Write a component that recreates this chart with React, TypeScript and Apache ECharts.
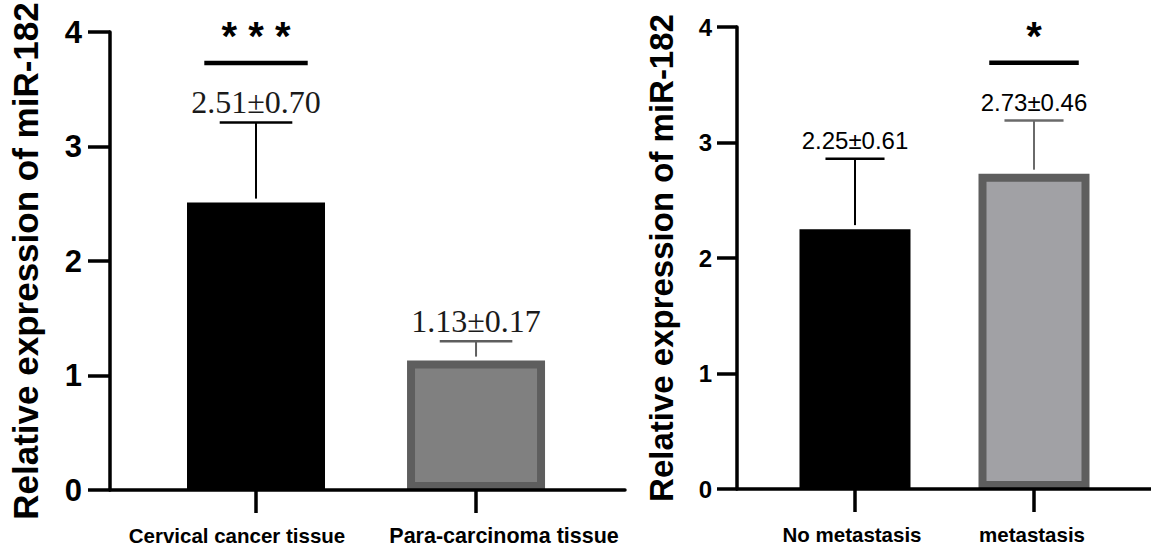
import React, { useEffect, useRef } from "react";
import * as echarts from "echarts";

// ---- data ----
const leftCategories = ["Cervical cancer tissue", "Para-carcinoma tissue"];
const leftMeans = [2.51, 1.13];
const leftSDs = [0.7, 0.17];

const rightCategories = ["No metastasis", "metastasis"];
const rightMeans = [2.25, 2.73];
const rightSDs = [0.61, 0.46];

const yTickMin = 0;
const yTickMax = 4;
const yTickStep = 1;

const yTitle = "Relative expression of miR-182";

const leftSig = { mark: "* * *", index: 0, level: 3.73 };
const rightSig = { mark: "*", index: 1, level: 3.69 };

// ---- styles ----
const SANS = "'Liberation Sans', Arial, Helvetica, sans-serif";
const SERIF = "'Liberation Serif', 'Times New Roman', serif";

type Panel = {
  cats: string[];
  means: number[];
  sds: number[];
  sig: { mark: string; index: number; level: number };
  grid: { left: number; top: number; width: number; height: number };
  xMin: number;
  xMax: number;
  barWidth: number;
  barColors: string[];
  barBorders: string[];
  errColors: string[];
  valueFont: string;
  valueSize: number;
  valueColor: string;
  valueOffset: number;
  tickSize: number;
  tickLen: number;
  tickMargin: number;
  titleSize: number;
  titleGap: number;
  sigHalf: number;
  catRich: any[];
};

const panels: Panel[] = [
  {
    cats: leftCategories,
    means: leftMeans,
    sds: leftSDs,
    sig: leftSig,
    grid: { left: 110, top: 32, width: 515, height: 458 },
    xMin: -0.6636,
    xMax: 1.677,
    barWidth: 138,
    barColors: ["#000000", "#808080"],
    barBorders: ["#000000", "#5e5e5e"],
    errColors: ["#000000", "#5e5e5e"],
    valueFont: SERIF,
    valueSize: 32,
    valueColor: "#1a1a1a",
    valueOffset: 20,
    tickSize: 31,
    tickLen: 22,
    tickMargin: 28,
    titleSize: 35,
    titleGap: 67,
    sigHalf: 0.235,
    catRich: [
      { fontSize: 20.5, padding: [0, 38, 0, 0] },
      { fontSize: 21.5, padding: [0, 0, 0, 56] },
    ],
  },
  {
    cats: rightCategories,
    means: rightMeans,
    sds: rightSDs,
    sig: rightSig,
    grid: { left: 737, top: 27, width: 414, height: 462 },
    xMin: -0.6592,
    xMax: 1.6536,
    barWidth: 111,
    barColors: ["#000000", "#a1a1a5"],
    barBorders: ["#000000", "#5e5e5e"],
    errColors: ["#000000", "#6a6a6a"],
    valueFont: SANS,
    valueSize: 24,
    valueColor: "#000000",
    valueOffset: 18,
    tickSize: 24,
    tickLen: 20,
    tickMargin: 25,
    titleSize: 33,
    titleGap: 59,
    sigHalf: 0.25,
    catRich: [
      { fontSize: 20.5, padding: [0, 6, 0, 0] },
      { fontSize: 20.5, padding: [0, 4, 0, 0] },
    ],
  },
];

const CAP_UNITS = 0.33;

function buildOption() {
  const grid: any[] = [];
  const xAxis: any[] = [];
  const yAxis: any[] = [];
  const series: any[] = [];

  panels.forEach((p, gi) => {
    grid.push({ ...p.grid, containLabel: false });
    const rich: any = {};
    p.catRich.forEach((r, i) => {
      rich["c" + i] = { ...r, fontFamily: SANS, fontWeight: "bold", color: "#000" };
    });
    xAxis.push({
      gridIndex: gi,
      type: "value",
      min: p.xMin,
      max: p.xMax,
      z: 10,
      axisLine: { show: true, onZero: false, lineStyle: { color: "#000", width: 3.5 } },
      axisTick: { show: true, customValues: [0, 1], length: 23, lineStyle: { color: "#000", width: 3.5 } },
      axisLabel: {
        show: true,
        customValues: [0, 1],
        formatter: (v: number) => {
          const k = Math.round(v);
          return p.cats[k] ? `{c${k}|${p.cats[k]}}` : "";
        },
        rich,
        fontFamily: SANS,
        fontWeight: "bold",
        fontSize: 20.5,
        color: "#000",
        margin: 35,
      },
      splitLine: { show: false },
    });
    yAxis.push({
      gridIndex: gi,
      type: "value",
      min: yTickMin,
      max: yTickMax,
      interval: yTickStep,
      position: "left",
      z: 10,
      name: yTitle,
      nameLocation: "middle",
      nameGap: p.titleGap,
      nameTextStyle: { fontFamily: SANS, fontWeight: "bold", fontSize: p.titleSize, color: "#000" },
      axisLine: { show: true, onZero: false, lineStyle: { color: "#000", width: 3.5 } },
      axisTick: { show: true, length: p.tickLen, lineStyle: { color: "#000", width: 3.5 } },
      axisLabel: {
        fontFamily: SANS,
        fontWeight: "bold",
        fontSize: p.tickSize,
        color: "#000",
        margin: p.tickMargin,
      },
      splitLine: { show: false },
    });

    series.push({
      type: "bar",
      xAxisIndex: gi,
      yAxisIndex: gi,
      barWidth: p.barWidth,
      data: p.means.map((m, i) => ({
        value: [i, m],
        itemStyle: { color: p.barColors[i], borderColor: p.barBorders[i], borderWidth: 8 },
      })),
    });

    series.push({
      type: "custom",
      xAxisIndex: gi,
      yAxisIndex: gi,
      z: 5,
      data: p.means.map((m, i) => [i, m, p.sds[i]]),
      renderItem: (params: any, api: any) => {
        const i = api.value(0);
        const m = api.value(1);
        const sd = api.value(2);
        const base = api.coord([i, m]);
        const top = api.coord([i, m + sd]);
        const half = api.size([CAP_UNITS, 0])[0] / 2;
        const col = p.errColors[i];
        return {
          type: "group",
          children: [
            {
              type: "line",
              shape: { x1: base[0], y1: base[1] - 4, x2: top[0], y2: top[1] },
              style: { stroke: col, lineWidth: 2 },
            },
            {
              type: "line",
              shape: { x1: top[0] - half, y1: top[1], x2: top[0] + half, y2: top[1] },
              style: { stroke: col, lineWidth: 2.5 },
            },
            {
              type: "text",
              x: top[0],
              y: top[1] - p.valueOffset,
              style: {
                text: `${m.toFixed(2)}±${sd.toFixed(2)}`,
                fontFamily: p.valueFont,
                fontSize: p.valueSize,
                fill: p.valueColor,
                align: "center",
                verticalAlign: "middle",
              },
            },
          ],
        };
      },
    });

    series.push({
      type: "custom",
      xAxisIndex: gi,
      yAxisIndex: gi,
      z: 5,
      data: [[p.sig.index, p.sig.level]],
      renderItem: (params: any, api: any) => {
        const i = api.value(0);
        const y = api.value(1);
        const a = api.coord([i - p.sigHalf, y]);
        const b = api.coord([i + p.sigHalf, y]);
        return {
          type: "group",
          children: [
            {
              type: "line",
              shape: { x1: a[0], y1: a[1], x2: b[0], y2: b[1] },
              style: { stroke: "#000", lineWidth: 4.5 },
            },
            {
              type: "text",
              x: (a[0] + b[0]) / 2,
              y: a[1] - 27,
              style: {
                text: p.sig.mark,
                fontFamily: SANS,
                fontWeight: "bold",
                fontSize: 40,
                fill: "#000",
                align: "center",
                verticalAlign: "middle",
              },
            },
          ],
        };
      },
    });
  });

  return {
    animation: false,
    backgroundColor: "#ffffff",
    grid,
    xAxis,
    yAxis,
    series,
  };
}

export default function App() {
  const ref = useRef<HTMLDivElement>(null);
  useEffect(() => {
    if (!ref.current) return;
    const chart = echarts.init(ref.current, undefined, { renderer: "svg" });
    chart.setOption(buildOption() as any);
    return () => chart.dispose();
  }, []);
  return (
    <div
      ref={ref}
      style={{ position: "absolute", left: 0, top: 0, width: 1151, height: 550, background: "#fff" }}
    />
  );
}
